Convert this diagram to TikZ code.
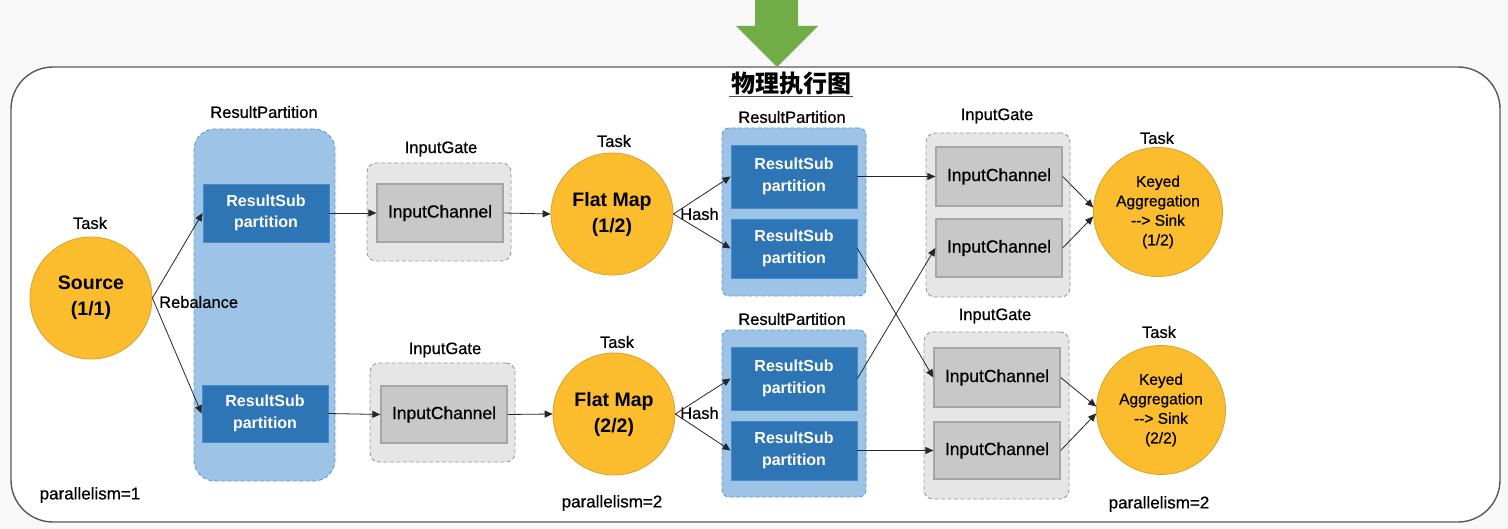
\documentclass[tikz,border=0pt]{standalone}
\usepackage{fontspec}
\setmainfont{Liberation Sans}
\newfontfamily\medfont{Liberation Sans}[FakeBold=0.6]
\newfontfamily\cjk{Noto Sans CJK SC}
\usetikzlibrary{arrows.meta}
\definecolor{bgc}{HTML}{F8F8F8}
\definecolor{outerbd}{HTML}{595959}
\definecolor{circ}{HTML}{FBBD2E}
\definecolor{circbd}{HTML}{D9A02A}
\definecolor{rpfill}{HTML}{9DC3E6}
\definecolor{rpbd}{HTML}{5B9BD5}
\definecolor{subfill}{HTML}{2E75B6}
\definecolor{subbd}{HTML}{4A88C7}
\definecolor{igfill}{HTML}{E6E6E6}
\definecolor{igbd}{HTML}{9A9A9A}
\definecolor{icfill}{HTML}{C8C8C8}
\definecolor{icbd}{HTML}{A6A6A6}
\definecolor{greenarr}{HTML}{70AD47}
\tikzset{
  task/.style={circle, draw=circbd, fill=circ, line width=0.8pt, inner sep=0pt,
    minimum size=122pt, align=center, font=\bfseries\fontsize{19.5}{26}\selectfont},
  keyed/.style={task, minimum size=129pt, font=\medfont\fontsize{15.5}{19.5}\selectfont},
  rpbox/.style={draw=rpbd, fill=rpfill, line width=0.9pt, dash pattern=on 4pt off 2.5pt, inner sep=0pt},
  subbox/.style={draw=subbd, fill=subfill, line width=0.8pt, text=white, align=center,
    font=\bfseries\fontsize{16}{21.5}\selectfont, minimum width=126pt, inner sep=0pt},
  igbox/.style={draw=igbd, fill=igfill, line width=0.9pt, dash pattern=on 4pt off 2.5pt,
    rounded corners=9pt, inner sep=0pt},
  icbox/.style={draw=icbd, fill=icfill, line width=1.3pt, minimum width=126pt, inner sep=0pt,
    font=\medfont\fontsize{17.5}{20}\selectfont},
  lbl/.style={font=\medfont\fontsize{16.5}{20}\selectfont, inner sep=0pt},
  conn/.style={-{Triangle[length=8pt,width=7pt]}, line width=0.8pt, draw=black!85}
}
\begin{document}
\begin{tikzpicture}[x=1pt,y=-1pt]
\fill[bgc] (0,0) rectangle (1508,529);
\useasboundingbox (0,0) rectangle (1508,529);
% frame
\draw[draw=outerbd, fill=white, line width=1.4pt, rounded corners=42pt] (11,67) rectangle (1500,522);
% green arrow
\fill[greenarr] (755,0) -- (798,0) -- (798,26) -- (818,26) -- (777,67) -- (736,26) -- (755,26) -- cycle;
% title
\node[font=\cjk\bfseries\fontsize{24}{26}\selectfont, inner sep=1.5pt] (title) at (791,83) {物理执行图};
\draw[line width=1.3pt, draw=black!70] (title.south west) -- (title.south east);

% containers
\node[rpbox, rounded corners=21pt, minimum width=141pt, minimum height=352pt] (rp1) at (264.5,305) {};
\node[lbl] (rp1l) at (264,112) {ResultPartition};
\node[igbox, minimum width=144pt, minimum height=98pt] (ig1) at (439,212) {};
\node[lbl] (ig1l) at (441,149) {InputGate};
\node[igbox, minimum width=145pt, minimum height=99pt] (ig2) at (442.5,412.5) {};
\node[lbl] (ig2l) at (445,350) {InputGate};
\node[rpbox, rounded corners=7pt, minimum width=144pt, minimum height=168pt] (rp3) at (794,212) {};
\node[lbl] (rp3l) at (792,117) {ResultPartition};
\node[rpbox, rounded corners=7pt, minimum width=144pt, minimum height=167pt] (rp4) at (794,413.5) {};
\node[lbl] (rp4l) at (792,319) {ResultPartition};
\node[igbox, minimum width=144pt, minimum height=164pt] (ig3) at (998,215) {};
\node[lbl] (ig3l) at (997,116) {InputGate};
\node[igbox, minimum width=145pt, minimum height=167pt] (ig4) at (996.5,415.5) {};
\node[lbl] (ig4l) at (995,316) {InputGate};

% inner boxes
\node[subbox, minimum height=58pt] (rs1) at (266,213) {ResultSub\\partition};
\node[subbox, minimum height=57pt] (rs2) at (265,413.5) {ResultSub\\partition};
\node[icbox, minimum height=58pt] (ic1) at (440,213) {InputChannel};
\node[icbox, minimum height=57pt] (ic2) at (444,414.5) {InputChannel};
\node[subbox, minimum height=63pt] (rs3) at (794,176.5) {ResultSub\\partition};
\node[subbox, minimum height=59pt] (rs4) at (794,248.5) {ResultSub\\partition};
\node[subbox, minimum height=63pt] (rs5) at (794,378.5) {ResultSub\\partition};
\node[subbox, minimum height=59pt] (rs6) at (794,450.5) {ResultSub\\partition};
\node[icbox, minimum height=59pt] (ic3) at (999,176.5) {InputChannel};
\node[icbox, minimum height=58pt] (ic4) at (999,248) {InputChannel};
\node[icbox, minimum height=59pt] (ic5) at (997,377.5) {InputChannel};
\node[icbox, minimum height=57pt] (ic6) at (997,450.5) {InputChannel};

% tasks
\node[task] (src) at (91,298) {Source\\(1/1)};
\node[lbl] (srcl) at (90,223) {Task};
\node[task] (fm1) at (612,214) {Flat Map\\(1/2)};
\node[lbl] (fm1l) at (614,141) {Task};
\node[task] (fm2) at (614,414) {Flat Map\\(2/2)};
\node[lbl] (fm2l) at (617,342) {Task};
\node[keyed] (k1) at (1158,212) {Keyed\\Aggregation\\-\kern0pt-\kern0pt> Sink\\(1/2)};
\node[lbl] (k1l) at (1157,138) {Task};
\node[keyed] (k2) at (1161,410) {Keyed\\Aggregation\\-\kern0pt-\kern0pt> Sink\\(2/2)};
\node[lbl] (k2l) at (1159,332) {Task};

% labels
\node[lbl, anchor=west] (reb) at (159,302) {Rebalance};
\node[lbl, anchor=west] (hash1) at (680,214) {Hash};
\node[lbl, anchor=west] (hash2) at (680,413) {Hash};
\node[lbl, font=\medfont\fontsize{17}{20}\selectfont] (par1) at (90,495) {parallelism=1};
\node[lbl, font=\medfont\fontsize{17}{20}\selectfont] (par2) at (612,503) {parallelism=2};
\node[lbl, font=\medfont\fontsize{17}{20}\selectfont] (par3) at (1159,504) {parallelism=2};

% connectors
\draw[conn] (src.east) -- (rs1.west);
\draw[conn] (src.east) -- (rs2.west);
\draw[conn] (rs1.east) -- (ic1.west);
\draw[conn] (rs2.east) -- (ic2.west);
\draw[conn] (ic1.east) -- (fm1.west);
\draw[conn] (ic2.east) -- (fm2.west);
\draw[conn] (fm1.east) -- (rs3.west);
\draw[conn] (fm1.east) -- (rs4.west);
\draw[conn] (fm2.east) -- (rs5.west);
\draw[conn] (fm2.east) -- (rs6.west);
\draw[conn] (rs3.east) -- (ic3.west);
\draw[conn] (rs4.east) -- (ic5.west);
\draw[conn] (rs5.east) -- (ic4.west);
\draw[conn] (rs6.east) -- (ic6.west);
\draw[conn] (ic3.east) -- (k1.176);
\draw[conn] (ic4.east) -- (k1.184);
\draw[conn] (ic5.east) -- (k2.177);
\draw[conn] (ic6.east) -- (k2.183);
\end{tikzpicture}
\end{document}
